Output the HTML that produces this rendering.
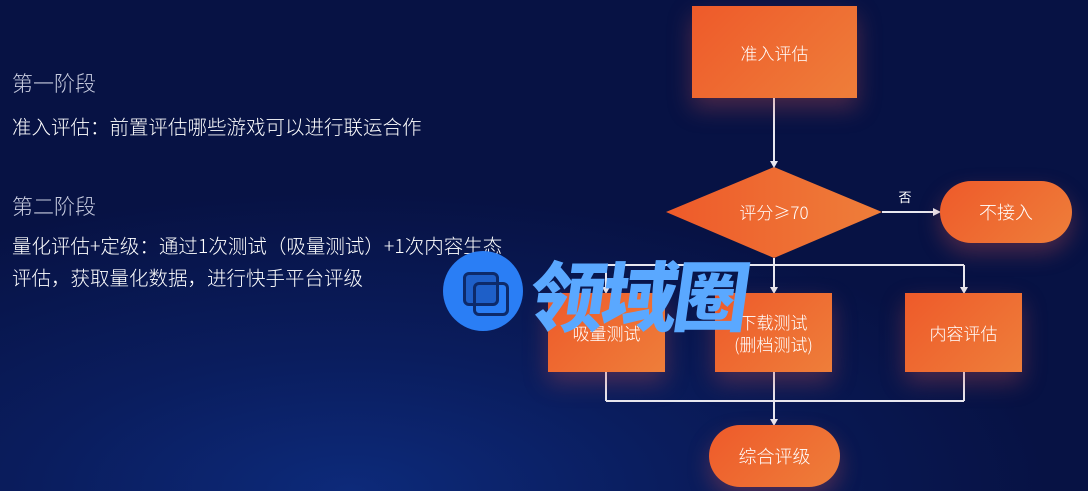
<!DOCTYPE html>
<html><head><meta charset="utf-8"><style>
body{margin:0;width:1088px;height:491px;overflow:hidden;font-family:"Liberation Sans","Noto Sans CJK SC",sans-serif;
background:radial-gradient(ellipse 700px 300px at 350px 491px,#0d2a7a 0%,#0a1d5e 45%,#071244 100%);position:relative}
.t{position:absolute;left:12px;color:#fff;font-size:19.5px;white-space:nowrap;font-family:"Noto Sans CJK SC",sans-serif;font-weight:300}
.h{color:#c9cde0;font-size:21px}
.n{position:absolute;display:flex;align-items:center;justify-content:center;color:#fff;font-size:17px;text-align:center;font-family:"Noto Sans CJK SC",sans-serif;font-weight:300;
background:linear-gradient(135deg,#ee5a2a,#ee7e3a);box-shadow:0 10px 22px rgba(200,80,80,.35)}
.p{border-radius:31px}
</style></head><body>
<div class="t h" style="top:68px">第一阶段</div>
<div class="t" style="top:111px">准入评估：前置评估哪些游戏可以进行联运合作</div>
<div class="t h" style="top:191px">第二阶段</div>
<div class="t" style="top:230px">量化评估+定级：通过1次测试（吸量测试）+1次内容生态</div>
<div class="t" style="top:262px">评估，获取量化数据，进行快手平台评级</div>

<svg style="position:absolute;left:0;top:0" width="1088" height="491">
<defs><linearGradient id="g" x1="0" y1="0" x2="1" y2="0"><stop offset="0" stop-color="#ee5a2a"/><stop offset="1" stop-color="#ee7e3a"/></linearGradient></defs>
<polygon points="774,167 882,212 774,258 666,212" fill="url(#g)"/>
<g stroke="#e8e8f0" stroke-width="2" fill="none">
<line x1="774" y1="98" x2="774" y2="162"/>
<line x1="882" y1="212" x2="934" y2="212"/>
<polyline points="606,265 964,265"/>
<line x1="774" y1="258" x2="774" y2="288"/>
<line x1="606" y1="265" x2="606" y2="288"/>
<line x1="964" y1="265" x2="964" y2="288"/>
<line x1="606" y1="372" x2="606" y2="401"/><line x1="964" y1="372" x2="964" y2="401"/>
<line x1="606" y1="401" x2="964" y2="401"/>
<line x1="774" y1="372" x2="774" y2="420"/>
</g>
<g fill="#e8e8f0">
<polygon points="770,161 778,161 774,168"/>
<polygon points="933,208 933,216 941,212"/>
<polygon points="602,287 610,287 606,294"/>
<polygon points="770,287 778,287 774,294"/>
<polygon points="960,287 968,287 964,294"/>
<polygon points="770,419 778,419 774,426"/>
</g>
<text x="774" y="219" fill="#fff" font-size="17" text-anchor="middle" font-family="Noto Sans CJK SC,sans-serif" font-weight="300">评分≥70</text>
<text x="905" y="202" fill="#fff" font-size="13" text-anchor="middle" font-family="Noto Sans CJK SC,sans-serif">否</text>
</svg>
<div class="n" style="left:692px;top:6px;width:165px;height:92px">准入评估</div>
<div class="n p" style="left:940px;top:181px;width:132px;height:62px;font-size:18px">不接入</div>
<div class="n" style="left:548px;top:293px;width:117px;height:79px">吸量测试</div>
<div class="n" style="left:715px;top:293px;width:117px;height:79px;line-height:22px">下载测试<br>(删档测试)</div>
<div class="n" style="left:905px;top:293px;width:117px;height:79px">内容评估</div>
<div class="n p" style="left:709px;top:425px;width:131px;height:62px;font-size:18px">综合评级</div>

<div style="position:absolute;left:443px;top:251px;width:80px;height:80px;border-radius:50%;background:#2a7ef5"></div>
<div style="position:absolute;left:463px;top:272px;width:30px;height:28px;border:3px solid #0d2a6a;border-radius:6px;background:#1e5fc8"></div>
<div style="position:absolute;left:473px;top:282px;width:30px;height:28px;border:3px solid #0d2a6a;border-radius:6px"></div>
<div style="position:absolute;left:525px;top:251px;font-size:76px;font-weight:900;color:#5aa8ff;letter-spacing:-4px;line-height:82px;font-family:'Noto Sans CJK SC',sans-serif;transform:skewX(-8deg);transform-origin:left bottom">领域圈</div>
</body></html>
